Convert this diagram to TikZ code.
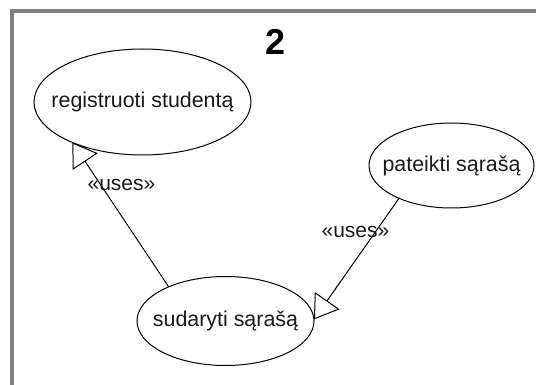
\documentclass[tikz,border=0pt]{standalone}
\usepackage{fontspec}
\setmainfont{Liberation Sans}
\usetikzlibrary{arrows.meta,shapes.geometric}
\definecolor{framegray}{HTML}{808080}
\definecolor{txt}{HTML}{1A1A1A}
\tikzset{
  usecase/.style={draw=black, line width=1pt, ellipse, inner sep=0pt, outer sep=0pt,
    font=\fontsize{21.4}{24}\selectfont, text=txt},
  lbl/.style={inner sep=0pt, font=\fontsize{21}{24}\selectfont, text=txt},
  uses/.style={draw=black, line width=1pt, -{Triangle[open, length=23pt, width=30pt, line width=1pt]}}
}
\begin{document}
\begin{tikzpicture}[x=1pt, y=-1pt]
\useasboundingbox (0,0) rectangle (536,385);
\fill[white] (0,0) rectangle (536,385);
\draw[framegray, line width=3.5pt] (12,386) -- (12,11) -- (537,11);
\node[inner sep=0pt, font=\fontsize{36}{40}\selectfont\bfseries] (title) at (276,42) {2};
\node[usecase, minimum width=217pt, minimum height=106pt] (reg) at (142.5,102) {\makebox[0pt]{registruoti studentą}};
\node[usecase, minimum width=165pt, minimum height=85pt] (pat) at (451.5,165.5) {\makebox[0pt]{pateikti sąrašą}};
\node[usecase, minimum width=177pt, minimum height=89pt] (sud) at (225.5,321) {\makebox[0pt]{sudaryti sąrašą}};
\draw[uses] (sud.149) -- (reg.210.3);
\draw[uses] (pat.212.8) -- (sud.1.3);
\node[lbl] (u1) at (121.5,185) {«uses»};
\node[lbl] (u2) at (355.5,232) {«uses»};
\end{tikzpicture}
\end{document}
